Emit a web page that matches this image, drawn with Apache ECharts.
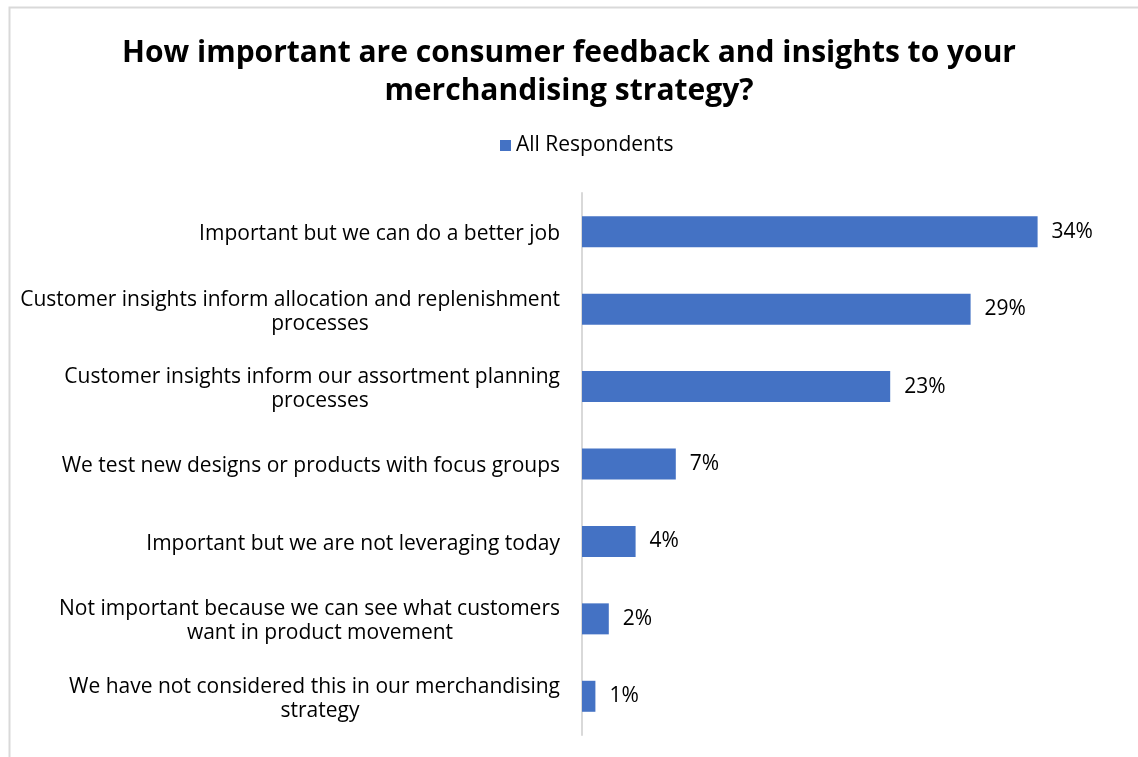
<!DOCTYPE html>
<html>
<head>
<meta charset="utf-8">
<script src="https://cdn.jsdelivr.net/npm/echarts@6/dist/echarts.min.js"></script>
<style>
  html, body { margin: 0; padding: 0; background: #fff; }
  #chart { width: 1138px; height: 757px; }
</style>
</head>
<body>
<div id="chart"></div>
<script>
// Survey answers, top to bottom
const categories = [
  'Important but we can do a better job',
  'Customer insights inform allocation and replenishment\nprocesses',
  'Customer insights inform our assortment planning\nprocesses',
  'We test new designs or products with focus groups',
  'Important but we are not leveraging today',
  'Not important because we can see what customers\nwant in product movement',
  'We have not considered this in our merchandising\nstrategy'
];
// Share of respondents, percent
const values = [34, 29, 23, 7, 4, 2, 1];
const seriesName = 'All Respondents';
const titleText = 'How important are consumer feedback and insights to your\nmerchandising strategy?';

const FONT = '"Open Sans", "Noto Sans", sans-serif';
const chart = echarts.init(document.getElementById('chart'));

chart.setOption({
  animation: false,
  backgroundColor: '#fff',
  title: {
    text: titleText,
    left: 'center',
    top: 29,
    textStyle: {
      fontFamily: FONT,
      fontSize: 30,
      fontWeight: 'bold',
      color: '#000',
      lineHeight: 38
    }
  },
  legend: {
    data: [seriesName],
    left: 495,
    top: 130,
    icon: 'rect',
    itemWidth: 11,
    itemHeight: 11,
    itemGap: 6,
    textStyle: { fontFamily: FONT, fontSize: 21, color: '#000' }
  },
  graphic: [{
    type: 'polyline',
    shape: { points: [[9.5, 760], [9.5, 7.5], [1140, 7.5]] },
    style: { stroke: '#d9d9d9', lineWidth: 2, fill: null },
    silent: true
  }],
  grid: { left: 582, right: 20, top: 193, bottom: 22, containLabel: false },
  xAxis: {
    type: 'value',
    min: 0,
    max: 40,
    show: false
  },
  yAxis: {
    type: 'category',
    data: categories,
    inverse: true,
    axisLine: { show: true, lineStyle: { color: '#d9d9d9', width: 2 } },
    axisTick: { show: false },
    axisLabel: {
      margin: 22,
      align: 'right',
      width: 480,
      overflow: 'none',
      padding: [5, 0, 0, 0],
      fontFamily: FONT,
      fontSize: 21,
      color: '#000',
      lineHeight: 24,
      formatter: function (v) {
        const parts = v.split('\n');
        if (parts.length === 1) return '{r|' + parts[0] + '}';
        return '{r|' + parts[0] + '}\n{c|' + parts[1] + '}';
      },
      rich: {
        r: { align: 'right', fontFamily: FONT, fontSize: 21, color: '#000', lineHeight: 24 },
        c: { align: 'center', fontFamily: FONT, fontSize: 21, color: '#000', lineHeight: 24 }
      }
    }
  },
  series: [{
    name: seriesName,
    type: 'bar',
    data: values,
    barWidth: 31,
    itemStyle: { color: '#4472C4' },
    label: {
      show: true,
      position: 'right',
      distance: 14,
      padding: [4, 0, 0, 0],
      formatter: '{c}%',
      fontFamily: FONT,
      fontSize: 21,
      color: '#000'
    }
  }]
});
</script>
</body>
</html>
